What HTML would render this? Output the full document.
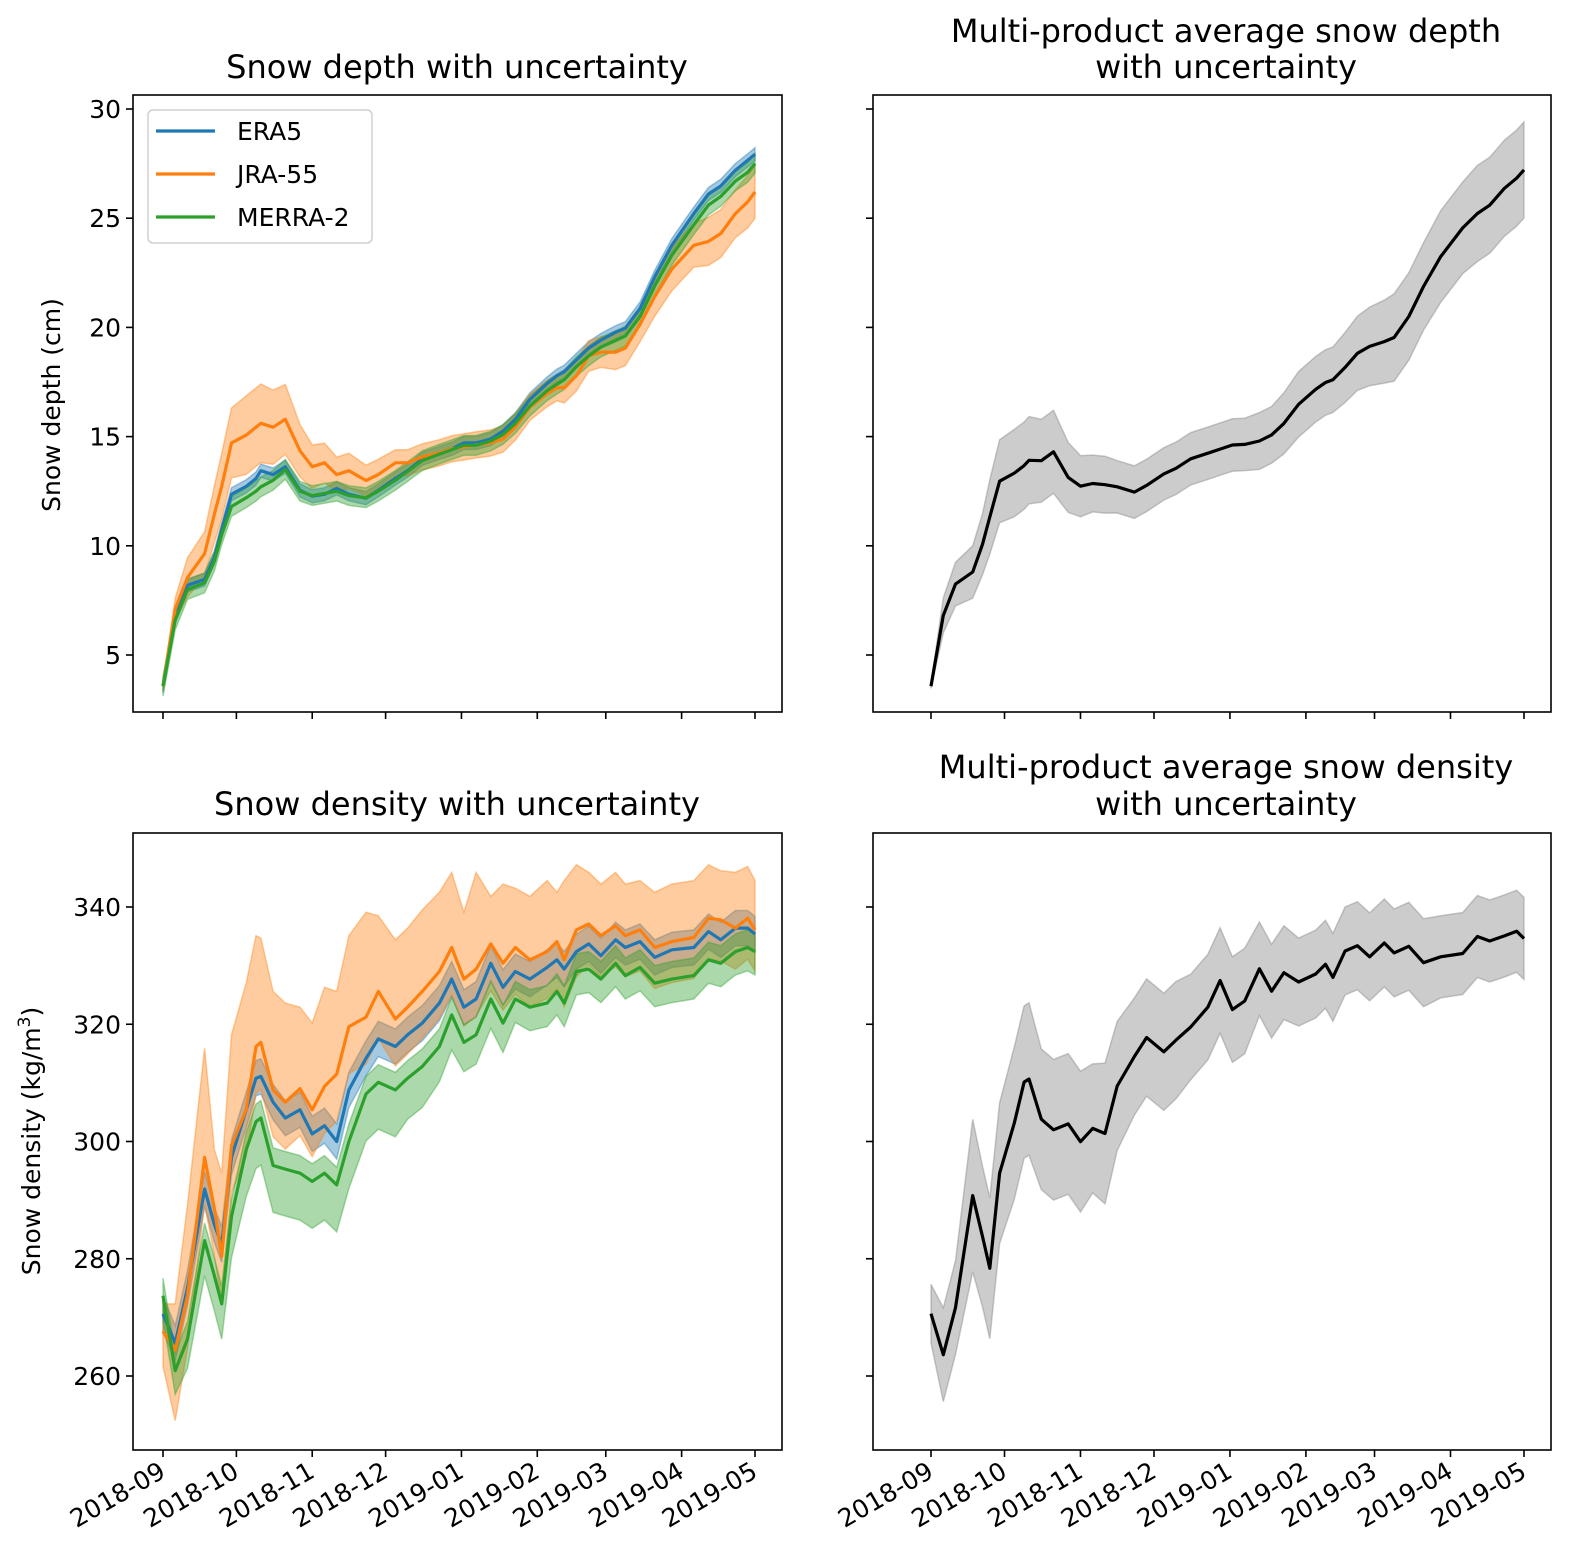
<!DOCTYPE html>
<html><head><meta charset="utf-8"><style>
body{margin:0;background:#fff}
svg{display:block;font-family:"DejaVu Sans","Liberation Sans",sans-serif}
</style></head><body>
<svg id="fig" width="1571" height="1566" viewBox="0 0 1571 1566"></svg>
<script>
const days=[0,5,10,17,21,24,28,34,38,40,45,50,56,61,66,71,76,83,88,95,100,106,113,118,123,128,134,139,144,150,157,161,164,169,174,179,185,189,195,201,208,217,223,228,234,239,242];
const depthERA5=[3.57,6.74,8.19,8.46,9.46,10.73,12.36,12.72,13.08,13.44,13.26,13.62,12.54,12.27,12.36,12.63,12.36,12.18,12.54,13.08,13.44,13.98,14.26,14.44,14.71,14.71,14.89,15.25,15.79,16.7,17.43,17.79,17.97,18.51,19.05,19.42,19.78,19.96,20.86,22.31,23.76,25.21,26.11,26.48,27.2,27.65,27.93];
const depthJRA=[3.57,7.1,8.55,9.64,11.45,12.72,14.71,15.07,15.43,15.61,15.43,15.79,14.35,13.62,13.8,13.26,13.44,12.99,13.26,13.8,13.8,14.07,14.26,14.44,14.53,14.62,14.71,14.89,15.43,16.34,16.97,17.24,17.24,17.79,18.69,18.87,18.87,19.05,20.14,21.41,22.67,23.76,23.94,24.3,25.21,25.75,26.2];
const depthMERRA=[3.57,6.6,8.0,8.3,9.3,10.5,11.8,12.2,12.5,12.7,13.0,13.5,12.5,12.3,12.4,12.5,12.3,12.2,12.5,13.0,13.4,13.9,14.2,14.4,14.6,14.6,14.8,15.1,15.6,16.4,17.1,17.4,17.6,18.2,18.7,19.1,19.4,19.6,20.5,21.9,23.3,24.7,25.6,26.0,26.7,27.1,27.5];
const depthJRAhw=[0.2,0.5,0.9,1.0,1.3,1.5,1.6,1.8,1.8,1.8,1.7,1.6,1.2,1.0,0.9,0.8,0.8,0.7,0.7,0.6,0.6,0.6,0.6,0.6,0.6,0.6,0.6,0.6,0.6,0.6,0.6,0.6,0.7,0.7,0.7,0.7,0.8,0.8,0.8,0.9,1.0,1.0,1.1,1.1,1.1,1.2,1.2];
const depthAvgHW=[0.1,0.8,1.0,1.2,1.4,1.7,1.9,2.0,2.0,2.0,1.9,1.9,1.6,1.4,1.3,1.3,1.2,1.2,1.2,1.2,1.2,1.2,1.2,1.2,1.2,1.2,1.3,1.3,1.4,1.5,1.5,1.5,1.5,1.6,1.7,1.8,1.9,2.0,2.0,2.0,2.1,2.1,2.2,2.2,2.2,2.2,2.2];
const densERA5=[270.6,265.6,275.0,291.9,285.8,282.4,297.3,305.4,310.8,311.1,306.7,304.0,305.4,301.3,302.7,300.0,308.8,314.2,317.5,316.2,318.2,320.2,323.6,327.7,322.9,324.3,330.4,326.3,329.0,327.7,329.7,331.0,329.4,332.4,333.7,331.7,334.4,333.1,334.1,331.4,332.7,333.1,335.8,334.4,336.4,336.4,335.4];
const densJRA=[267.6,264.4,273.7,297.3,288.5,280.4,299.3,305.4,316.2,316.9,308.8,306.7,309.0,305.4,309.4,311.5,319.6,321.2,325.6,320.9,322.9,325.6,329.0,333.1,327.7,329.4,333.7,330.4,333.1,331.0,332.4,334.1,331.0,336.1,337.1,335.1,336.8,335.1,336.1,333.1,334.1,334.8,338.1,337.8,336.4,338.1,336.1];
const densMERRA=[273.7,260.9,266.3,283.1,277.1,272.3,287.2,298.6,303.4,304.0,295.9,295.3,294.6,293.2,294.6,292.6,300.0,308.1,310.1,308.8,310.8,312.8,316.2,321.6,316.9,318.2,324.3,320.2,324.3,322.9,323.6,325.6,323.6,329.0,329.4,327.7,330.4,328.3,329.7,327.0,327.7,328.3,331.0,330.4,332.4,333.1,332.4];
const densJRAupper=[272.3,272.3,289.2,315.9,298.6,294.6,318.2,327.0,335.1,334.7,325.6,323.6,322.9,320.2,326.3,325.6,335.1,339.1,338.5,334.4,336.4,339.5,342.5,345.9,339.1,345.9,341.8,343.9,343.2,341.8,344.5,342.5,344.5,347.2,345.9,343.9,345.9,343.9,344.5,342.5,343.9,344.5,347.2,346.2,345.9,346.9,344.5];
const densJRAdown=[6,12,9,8,8,8,8,8,8,8,8,8,8,8,8,8,8,8,8,8,8,8,8,8,8,8,8,8,8,8,8,8,8,8,7,7,7,7,7,7,7,7,7,7,7,7,7];
const densMERRAdown=[4,4,5,6,6,6,7,8,8,8,8,8,8,8,8,8,8,8,8,8,7,7,6,6,5,5,5,5,4,4,4,4,4,4,4,4,4,4,4,4,4,4,4,4,4,4,4];
const densAvgHW=[5,8,8,13,12,12,12,13,13,13,12,12,12,12,11,12,11,10,10,10,10,9,9,9,9,9,8,8,8,7.5,7.5,7.5,7.5,7.5,7.5,7.5,7.5,7.5,7.5,7.5,7,7,7,7,7,7,7];
const depthTicks=[5,10,15,20,25,30];
const densTicks=[260,280,300,320,340];
const monthLabels=["2018-09","2018-10","2018-11","2018-12","2019-01","2019-02","2019-03","2019-04","2019-05"];
const monthDays=[0,30,61,91,122,153,181,212,242];

const NS="http://www.w3.org/2000/svg";
const svg=document.getElementById('fig');
function mk(tag,attrs,parent){const e=document.createElementNS(NS,tag);for(const k in attrs)e.setAttribute(k,attrs[k]);(parent||svg).appendChild(e);return e;}

function panel(name,L,R,T,B,xScaleL,xScaleR,ymin,ymax,y0,y1,ticks,showLabels){
  const g=mk('g',{});
  
  
  const xs=d=>xScaleL+(xScaleR-xScaleL)*d/242;
  const ys=v=>y0+(y1-y0)*(v-ymin)/(ymax-ymin);
  return {g,xs,ys,L,R,T,B,ticks,showLabels};
}
function band(p,lo,hi,fill,op,name){
  let d='M'+days.map((t,i)=>p.xs(t).toFixed(1)+','+p.ys(hi[i]).toFixed(1)).join('L');
  for(let i=days.length-1;i>=0;i--)d+='L'+p.xs(days[i]).toFixed(1)+','+p.ys(lo[i]).toFixed(1);
  d+='Z';
  const e=mk('path',{d,fill,'fill-opacity':op,stroke:fill,'stroke-opacity':op,'stroke-width':1.5},p.g);
  
  
}
function line(p,vals,color,name){
  const d='M'+days.map((t,i)=>p.xs(t).toFixed(1)+','+p.ys(vals[i]).toFixed(1)).join('L');
  const e=mk('path',{d,fill:'none',stroke:color,'stroke-width':3.2,'stroke-linejoin':'round'},p.g);
  
  
}
function axes(p){
  const f=mk('rect',{x:p.L,y:p.T,width:p.R-p.L,height:p.B-p.T,fill:'none',stroke:'#000','stroke-width':1.6},p.g);
  
  
  p.ticks.forEach(v=>{
    const y=p.ys(v);
    mk('line',{x1:p.L-7,x2:p.L,y1:y,y2:y,stroke:'#000','stroke-width':1.6},p.g);
    if(p.showLabels.y){const t=mk('text',{x:p.L-12,y:y+9,'text-anchor':'end','font-size':25},p.g);t.textContent=v;
      
      }
  });
  monthDays.forEach((d,i)=>{
    const x=p.xs(d);
    mk('line',{x1:x,x2:x,y1:p.B,y2:p.B+7,stroke:'#000','stroke-width':1.6},p.g);
    if(p.showLabels.x){const t=mk('text',{x:0,y:0,'text-anchor':'end','font-size':25,transform:`translate(${x+4},${p.B+26}) rotate(-30)`},p.g);t.textContent=monthLabels[i];
      
      }
  });
}
function text(x,y,s,size,name,extra){const t=mk('text',Object.assign({x,y,'text-anchor':'middle','font-size':size},extra||{}));t.textContent=s;
  
  return t;}

const add=(a,b)=>a.map((v,i)=>v+b[i]);const sub=(a,b)=>a.map((v,i)=>v-b[i]);
const cst=(n)=>days.map(()=>n);
const mean3=(a,b,c)=>a.map((v,i)=>(v+b[i]+c[i])/3);

const p1=panel('depth-panel',133,782,95,712,163,755,5,30,655,109,depthTicks,{x:false,y:true});
band(p1,sub(depthERA5,cst(0.3)),add(depthERA5,cst(0.3)),'#1f77b4',0.4,'era5-depth-band');
band(p1,sub(depthJRA,depthJRAhw),add(depthJRA,depthJRAhw),'#ff7f0e',0.4,'jra55-depth-band');
band(p1,sub(depthMERRA,cst(0.45)),add(depthMERRA,cst(0.45)),'#2ca02c',0.4,'merra2-depth-band');
line(p1,depthERA5,'#1f77b4','era5-depth-line');
line(p1,depthJRA,'#ff7f0e','jra55-depth-line');
line(p1,depthMERRA,'#2ca02c','merra2-depth-line');
axes(p1);
const lg=mk('g',{});


mk('rect',{x:148,y:110,width:224,height:133,rx:5,fill:'#fff','fill-opacity':0.8,stroke:'#d0d0d0','stroke-width':1.5},lg);
[['ERA5','#1f77b4',131],['JRA-55','#ff7f0e',174],['MERRA-2','#2ca02c',217]].forEach(([n,c,y])=>{
  const e=mk('g',{},lg);
  
  
  mk('line',{x1:156,x2:215,y1:y,y2:y,stroke:c,'stroke-width':3.2},e);
  const t=mk('text',{x:237,y:y+9,'font-size':25},e);t.textContent=n;
});

const p2=panel('avg-depth-panel',873,1551,95,712,931,1524,5,30,655,109,depthTicks,{x:false,y:false});
const dAvg=mean3(depthERA5,depthJRA,depthMERRA);
band(p2,sub(dAvg,depthAvgHW),add(dAvg,depthAvgHW),'#808080',0.4,'avg-depth-band');
line(p2,dAvg,'#000','avg-depth-line');
axes(p2);

const p3=panel('density-panel',133,782,833,1450,163,755,260,340,1376,907,densTicks,{x:true,y:true});
band(p3,sub(densERA5,cst(3)),add(densERA5,cst(3)),'#1f77b4',0.4,'era5-density-band');
band(p3,sub(densJRA,densJRAdown),densJRAupper,'#ff7f0e',0.4,'jra55-density-band');
band(p3,sub(densMERRA,densMERRAdown),add(densMERRA,cst(3)),'#2ca02c',0.4,'merra2-density-band');
line(p3,densERA5,'#1f77b4','era5-density-line');
line(p3,densJRA,'#ff7f0e','jra55-density-line');
line(p3,densMERRA,'#2ca02c','merra2-density-line');
axes(p3);

const p4=panel('avg-density-panel',873,1551,833,1450,931,1524,260,340,1376,907,densTicks,{x:true,y:false});
const rAvg=mean3(densERA5,densJRA,densMERRA);
band(p4,sub(rAvg,densAvgHW),add(rAvg,densAvgHW),'#808080',0.4,'avg-density-band');
line(p4,rAvg,'#000','avg-density-line');
axes(p4);

text(457,78,'Snow depth with uncertainty',32,'depth-title');
text(1226,42,'Multi-product average snow depth',32,'avg-depth-title-line1');
text(1226,78,'with uncertainty',32,'avg-depth-title-line2');
text(457,815,'Snow density with uncertainty',32,'density-title');
text(1226,778,'Multi-product average snow density',32,'avg-density-title-line1');
text(1226,815,'with uncertainty',32,'avg-density-title-line2');
text(0,0,'Snow depth (cm)',25,'depth-y-axis-title',{transform:'translate(60,405) rotate(-90)'});
const yl=text(0,0,'',25,'density-y-axis-title',{transform:'translate(40,1141) rotate(-90)'});
yl.innerHTML='Snow density (kg/m<tspan baseline-shift="super" font-size="17">3</tspan>)';
</script>
</body></html>
